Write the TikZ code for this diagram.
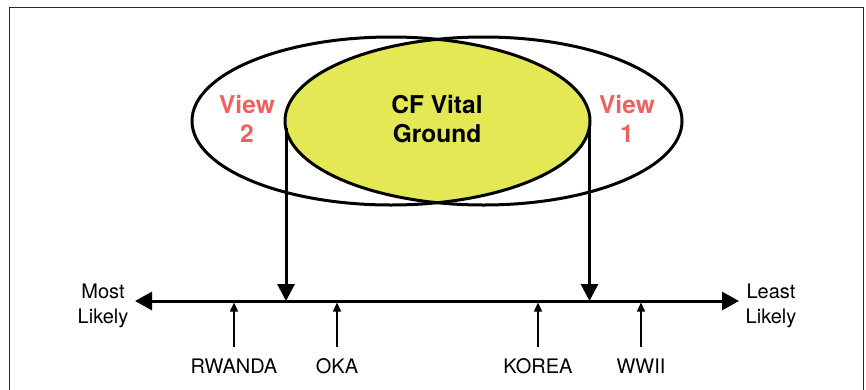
\documentclass[tikz,border=0pt]{standalone}
\usepackage{fontspec}
\setmainfont{TeX Gyre Heros}
\usetikzlibrary{arrows.meta}
\definecolor{lensyellow}{RGB}{229,232,85}
\definecolor{viewred}{RGB}{240,96,96}
\definecolor{framegray}{RGB}{40,40,40}
\tikzset{
  px/.style={x=1pt,y=-1pt},
  ring/.style={line width=3pt},
  bigarrow/.style={line width=3pt,-{Triangle[length=17pt,width=17pt]}},
  axisline/.style={line width=3pt,{Triangle[length=17pt,width=18pt]}-{Triangle[length=17pt,width=18pt]}},
  tick/.style={line width=1.4pt,-{Triangle[length=9pt,width=8pt]}},
  viewtext/.style={font=\fontsize{24.5}{29}\selectfont\bfseries,text=viewred,align=center},
  cftext/.style={font=\fontsize{24.5}{29}\selectfont\bfseries,align=center},
  endtext/.style={font=\fontsize{20}{25}\selectfont,align=center},
  casetext/.style={font=\fontsize{20}{25}\selectfont},
}
\begin{document}
\begin{tikzpicture}[px]
\useasboundingbox (0,0) rectangle (866,389);
% frame
\draw[framegray,line width=1.5pt] (9.5,400) -- (9.5,7.5) -- (863.5,7.5) -- (863.5,400);
% lens fill
\begin{scope}
  \clip (391,121) ellipse [x radius=199,y radius=84];
  \fill[lensyellow] (483.5,121) ellipse [x radius=198.5,y radius=84];
\end{scope}
% ellipses
\draw[ring] (391,121) ellipse [x radius=199,y radius=84];
\draw[ring] (483.5,121) ellipse [x radius=198.5,y radius=84];
% texts
\node[viewtext] (v2) at (247,119) {View\\2};
\node[viewtext] (v1) at (627,119) {View\\1};
\node[cftext] (cf) at (437,119) {CF Vital\\Ground};
% axis
\coordinate (axL) at (135,301);
\coordinate (axR) at (739,301);
\draw[axisline] (axL) -- (axR);
\node[endtext] (most) at (103,306) {Most\\Likely};
\node[endtext] (least) at (771,306) {Least\\Likely};
% vertical arrows from lens edges
\coordinate (lensL) at (286,128);
\coordinate (lensR) at (589.5,128);
\coordinate (hitL) at (286,301);
\coordinate (hitR) at (589.5,301);
\draw[bigarrow] (lensL) -- (hitL);
\draw[bigarrow] (lensR) -- (hitR);
% cases
\node[casetext] (rw) at (234,366) {RWANDA};
\node[casetext] (oka) at (337,366) {OKA};
\node[casetext] (kor) at (538,366) {KOREA};
\node[casetext] (ww) at (641,366) {WWII};
\coordinate (rwA) at (234,302.5);
\coordinate (okaA) at (337,302.5);
\coordinate (korA) at (538,302.5);
\coordinate (wwA) at (641,302.5);
\draw[tick] (234,347) -- (rwA);
\draw[tick] (337,347) -- (okaA);
\draw[tick] (538,347) -- (korA);
\draw[tick] (641,347) -- (wwA);
\end{tikzpicture}
\end{document}
